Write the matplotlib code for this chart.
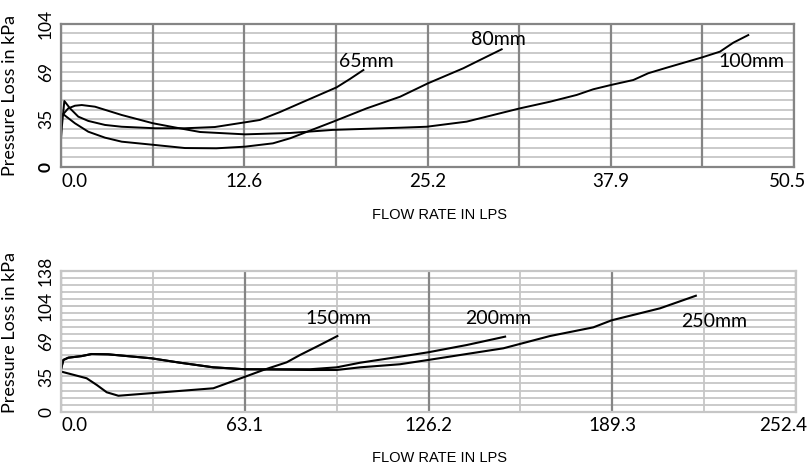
import numpy as np
import matplotlib
matplotlib.use('Agg')
import matplotlib.pyplot as plt
from matplotlib.transforms import ScaledTranslation

plt.rcParams['font.family'] = ['Lato', 'DejaVu Sans']

# ---------------- data (LPS vs kPa) ----------------
# top panel: 65 / 80 / 100 mm
x_65 = [0.0, 0.07, 0.23, 0.62, 1.19, 1.88, 3.03, 4.18, 6.48, 8.54, 10.6, 12.68, 13.7, 15.1, 16.47, 18.99, 19.9, 20.83]
y_65 = [20.8, 30.4, 47.7, 42.4, 36.4, 33.3, 30.4, 29.1, 28.0, 28.0, 28.9, 32.3, 34.0, 39.8, 46.1, 57.6, 63.6, 70.1]

x_80 = [0.0, 0.16, 0.96, 1.88, 3.03, 4.18, 6.48, 8.54, 10.7, 12.68, 14.6, 15.8, 18.76, 21.06, 23.36, 25.28, 27.72, 28.87, 30.36]
y_80 = [35.5, 38.1, 31.6, 25.5, 21.2, 18.3, 15.9, 13.7, 13.5, 14.7, 17.1, 20.8, 32.8, 42.4, 50.8, 60.5, 71.4, 77.4, 85.1]

x_100 = [0.0, 0.50, 0.96, 1.43, 2.34, 4.18, 6.34, 7.85, 9.58, 12.68, 15.8, 18.7, 23.36, 25.19, 27.95, 30.24,
         31.62, 33.69, 35.53, 36.67, 37.89, 39.43, 40.46, 41.73, 44.18, 45.40, 46.32, 47.35]
y_100 = [36.4, 42.4, 44.3, 44.8, 43.6, 37.6, 31.6, 28.6, 25.3, 23.6, 24.6, 26.8, 28.4, 29.1, 32.8, 38.8,
         42.4, 47.2, 52.1, 56.2, 59.3, 62.9, 67.8, 71.8, 79.3, 83.4, 89.9, 95.4]

# bottom panel: 150 / 200 / 250 mm
x_150 = [0.24, 8.8, 12.3, 15.7, 19.7, 52.3, 63.2, 69.5, 77.5, 82.1, 88.9, 94.9]
y_150 = [39.1, 32.7, 26.1, 19.0, 15.6, 22.9, 34.2, 40.8, 48.3, 55.5, 65.2, 74.0]

x_200 = [0.0, 0.8, 2.5, 7.1, 10.5, 16.2, 31.1, 40.9, 52.3, 63.2, 85.5, 94.7, 102.7, 116.4, 126.1, 139.3, 152.5]
y_200 = [41.5, 50.6, 52.8, 54.4, 56.4, 56.1, 52.2, 47.9, 43.4, 41.5, 41.5, 43.4, 47.9, 53.8, 58.1, 65.2, 73.4]

x_250 = [0.0, 0.8, 2.5, 7.1, 10.5, 16.2, 31.1, 40.9, 52.3, 63.2, 85.5, 94.7, 102.7, 116.4, 126.1, 151.9,
         167.9, 182.8, 189.1, 205.7, 218.0]
y_250 = [41.5, 50.6, 52.8, 54.4, 56.4, 56.1, 52.2, 47.9, 43.4, 41.5, 40.8, 40.8, 43.4, 46.4, 50.6, 62.0,
         74.0, 82.5, 89.4, 101.1, 113.4]

top_xticks = [0.0, 12.625, 25.25, 37.875, 50.5]
top_xlabels = ['0.0', '12.6', '25.2', '37.9', '50.5']
top_yticks = [0.0, 34.47, 68.95, 103.42]
top_ylabels = ['0', '35', '69', '104']

bot_xticks = [0.0, 63.1, 126.2, 189.3, 252.4]
bot_xlabels = ['0.0', '63.1', '126.2', '189.3', '252.4']
bot_yticks = [0.0, 34.47, 68.95, 103.42, 137.9]
bot_ylabels = ['0', '35', '69', '104', '138']

top_names = ['65mm', '80mm', '100mm']
top_name_pos = [(21.0, 76.6), (30.1, 92.2), (47.6, 76.6)]
bot_names = ['150mm', '200mm', '250mm']
bot_name_pos = [(95.3, 90.7), (150.2, 91.6), (224.2, 88.7)]

PSI = 6.895
DARK = '#858585'
LIGHT = '#c6c6c6'

fig = plt.figure(figsize=(8.07, 4.68), dpi=100)
ax1 = fig.add_axes([0.0756, 0.6432, 0.9083, 0.3056])
ax2 = fig.add_axes([0.0756, 0.1203, 0.9108, 0.3013])


def setup(ax, xmax, ymax, xt, xl, yt, yl, frame_col, xminor_col, last_shift):
    ax.set_xlim(0, xmax)
    ax.set_ylim(0, ymax)
    ax.set_xticks(xt)
    ax.set_xticklabels(xl, fontsize=13.5)
    ax.set_xticks(np.arange(0, 8) * xmax / 8, minor=True)
    ax.set_yticks(yt)
    ax.set_yticklabels(yl, fontsize=12.5, rotation=90, va='center')
    ax.set_yticks(np.arange(0, round(ymax / PSI) + 1) * PSI, minor=True)
    ax.tick_params(which='both', length=0)
    ax.tick_params(axis='x', pad=4)
    ax.tick_params(axis='y', pad=5)
    labs = ax.xaxis.get_majorticklabels()
    labs[0].set_horizontalalignment('left')
    labs[-1].set_transform(labs[-1].get_transform() + ScaledTranslation(last_shift, 0, fig.dpi_scale_trans))
    ax.grid(which='major', axis='x', color=DARK, lw=1.6)
    ax.grid(which='minor', axis='x', color=xminor_col, lw=1.6 if xminor_col == DARK else 1.3)
    ax.grid(which='both', axis='y', color=LIGHT, lw=1.3)
    ax.set_axisbelow(True)
    ax.xaxis.set_zorder(0.7)
    for s in ax.spines.values():
        s.set_color(frame_col)
        s.set_linewidth(1.6)
    ax.set_ylabel('Pressure Loss in kPa', fontsize=13)


setup(ax1, 50.5, 103.42, top_xticks, top_xlabels, top_yticks, top_ylabels, DARK, DARK, -0.06)
setup(ax2, 252.4, 137.9, bot_xticks, bot_xlabels, bot_yticks, bot_ylabels, LIGHT, LIGHT, -0.13)
ax1.get_yticklabels()[0].set_fontweight('bold')
ax1.yaxis.set_label_coords(-0.058, 0.5)
ax2.yaxis.set_label_coords(-0.058, 0.565)

for xs, ys in [(x_65, y_65), (x_80, y_80), (x_100, y_100)]:
    ax1.plot(xs, ys, color='black', lw=1.4, solid_joinstyle='round')
for xs, ys in [(x_150, y_150), (x_200, y_200), (x_250, y_250)]:
    ax2.plot(xs, ys, color='black', lw=1.5, solid_joinstyle='round')

for name, (px, py) in zip(top_names, top_name_pos):
    ax1.text(px, py, name, fontsize=14, ha='center', va='center')
for name, (px, py) in zip(bot_names, bot_name_pos):
    ax2.text(px, py, name, fontsize=14, ha='center', va='center')

fig.text(0.545, 1 - 215 / 468, 'FLOW RATE IN LPS', fontsize=10.5, ha='center', va='center',
         family='Liberation Sans')
fig.text(0.545, 1 - 458 / 468, 'FLOW RATE IN LPS', fontsize=10.5, ha='center', va='center',
         family='Liberation Sans')

fig.savefig('out.png', dpi=100)
